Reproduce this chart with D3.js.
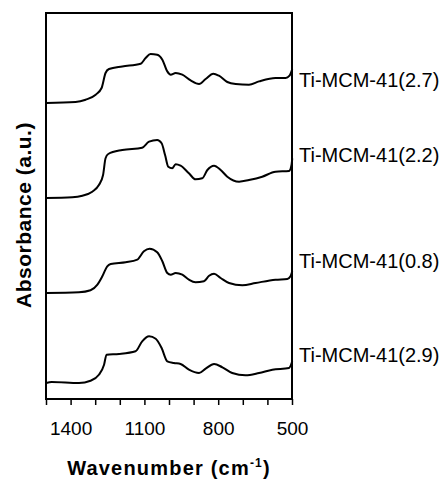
<!DOCTYPE html>
<html>
<head>
<meta charset="utf-8">
<script src="https://cdn.jsdelivr.net/npm/d3@7"></script>
<style>
  body { margin: 0; background: #fff; }
  svg text { font-family: "Liberation Sans", Arial, sans-serif; fill: #000; }
</style>
</head>
<body>
<script>
// sample names, top to bottom
const samples = ["Ti-MCM-41(2.7)", "Ti-MCM-41(2.2)", "Ti-MCM-41(0.8)", "Ti-MCM-41(2.9)"];
// vertical stacking offset of each spectrum (a.u.)
const offsets = [2.96, 2.01, 1.06, 0.16];
const xTicks = [1400, 1100, 800, 500];

// wavenumber (cm-1) / absorbance (a.u., above own baseline)
const wn1 = [1499,1380,1339,1298,1274,1258,1244,1190,1115,1095,1075,1048,1027,1007,993,973,946,912,878,851,820,797,763,729,675,634,567,526,510,499];
const ab1 = [0,.01,.033,.083,.15,.30,.34,.366,.393,.45,.49,.483,.433,.316,.283,.30,.283,.226,.19,.24,.293,.273,.21,.19,.183,.216,.25,.25,.273,.34];

const wn2 = [1499,1393,1352,1312,1285,1268,1258,1247,1190,1109,1081,1048,1030,1016,1003,987,973,953,919,892,865,844,817,790,763,715,675,621,567,512,502,499];
const ab2 = [0,.007,.023,.063,.13,.23,.397,.44,.48,.503,.563,.58,.547,.43,.313,.297,.337,.323,.247,.187,.197,.28,.323,.28,.213,.163,.18,.213,.263,.27,.33,.397];

const wn3 = [1499,1366,1319,1291,1271,1251,1237,1176,1129,1102,1079,1048,1027,1007,993,973,946,919,892,858,837,817,790,756,702,648,567,519,506,499];
const ab3 = [0,.007,.027,.083,.167,.267,.29,.307,.333,.417,.443,.407,.317,.20,.183,.20,.183,.133,.107,.117,.173,.193,.15,.10,.077,.10,.133,.14,.167,.217];

const wn4 = [1499,1477,1366,1319,1285,1264,1254,1203,1136,1109,1081,1054,1030,1007,980,953,919,878,851,817,783,743,689,634,580,512,499];
const ab4 = [0,.01,0,.023,.083,.183,.283,.29,.317,.417,.467,.443,.35,.217,.20,.19,.133,.10,.143,.19,.157,.10,.077,.10,.133,.15,.217];

const spectra = [[wn1, ab1], [wn2, ab2], [wn3, ab3], [wn4, ab4]];

const W = 442, H = 481;
const M = {top: 13, right: 150, bottom: 82, left: 46};

const svg = d3.select("body").append("svg").attr("width", W).attr("height", H);

const x = d3.scaleLinear().domain([1500, 500]).range([M.left, W - M.right]);
const y = d3.scaleLinear().domain([0, 3.86]).range([H - M.bottom, M.top]);

// curves
const line = d3.line()
  .x(d => x(d[0]))
  .y(d => y(d[1]))
  .curve(d3.curveMonotoneX);

spectra.forEach((s, i) => {
  let pts = s[0].map((w, j) => [w, s[1][j] + offsets[i]]);
  svg.append("path")
    .attr("d", line(pts))
    .attr("fill", "none")
    .attr("stroke", "#000")
    .attr("stroke-width", 2)
    .attr("stroke-linejoin", "round");
});

// sample labels
const labelY = [86.5, 161.5, 268, 361.5];
samples.forEach((name, i) => {
  svg.append("text")
    .attr("x", W - M.right + 7)
    .attr("y", labelY[i])
    .attr("font-size", 20)
    .text(name);
});

// x axis
const xAxis = d3.axisBottom(x)
  .tickValues(d3.range(500, 1501, 100))
  .tickSize(6)
  .tickFormat(d => xTicks.includes(d) ? d : "");
const gx = svg.append("g")
  .attr("transform", "translate(0," + (H - M.bottom) + ")")
  .call(xAxis);
gx.select(".domain").remove();
gx.selectAll(".tick line").attr("stroke", "#000").attr("stroke-width", 1.5);
gx.selectAll(".tick text")
  .attr("font-size", 19)
  .attr("dy", 0)
  .attr("y", 36)
  .attr("font-family", "Liberation Sans, Arial, sans-serif");

// frame
svg.append("rect")
  .attr("x", M.left).attr("y", M.top)
  .attr("width", W - M.left - M.right)
  .attr("height", H - M.top - M.bottom)
  .attr("fill", "none")
  .attr("stroke", "#000")
  .attr("stroke-width", 2);

// axis titles
const xt = svg.append("text")
  .attr("x", (M.left + W - M.right) / 2)
  .attr("y", 475)
  .attr("text-anchor", "middle")
  .attr("font-size", 20)
  .attr("font-weight", "bold")
  .attr("letter-spacing", 1.2);
xt.append("tspan").text("Wavenumber (cm");
xt.append("tspan").attr("font-size", 12).attr("dy", -8).text("-1");
xt.append("tspan").attr("dy", 8).text(")");

svg.append("text")
  .attr("transform", "translate(31," + 215 + ") rotate(-90)")
  .attr("text-anchor", "middle")
  .attr("font-size", 21)
  .attr("font-weight", "bold")
  .attr("letter-spacing", 0.5)
  .text("Absorbance (a.u.)");
</script>
</body>
</html>
